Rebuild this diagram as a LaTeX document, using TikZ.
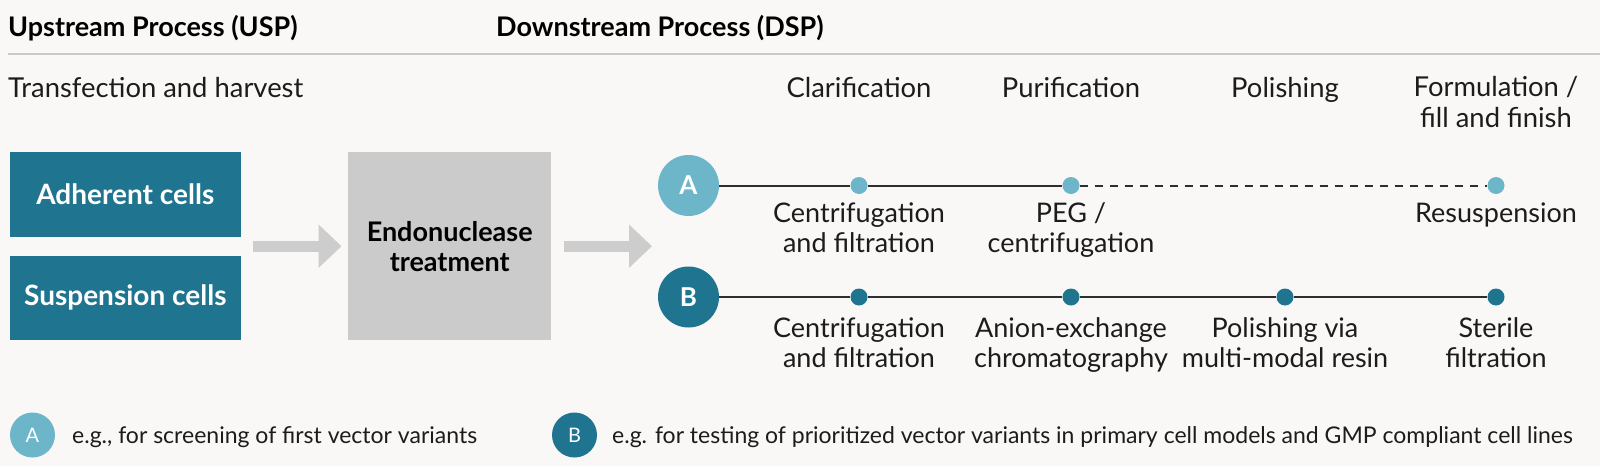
\documentclass[tikz,border=0pt]{standalone}
\usepackage{fontspec}
\setmainfont{Lato}
\usetikzlibrary{arrows.meta}
\definecolor{bgc}{HTML}{F9F8F6}
\definecolor{txtc}{HTML}{1C1C1C}
\definecolor{tealc}{HTML}{1F7490}
\definecolor{lightc}{HTML}{6DB6CA}
\definecolor{boxgray}{HTML}{CBCBCB}
\definecolor{arrgray}{HTML}{CDCDCD}
\definecolor{rulec}{HTML}{C9C9C9}
\definecolor{linec}{HTML}{2E2E2E}
\newcommand{\mltwo}[2]{\begin{tabular}[t]{@{}c@{}}#1\\#2\end{tabular}}
\begin{document}
\begin{tikzpicture}[x=1pt,y=-1pt,
  hdr/.style={inner sep=0pt, text=black, font=\fontsize{27}{30}\selectfont\bfseries},
  sub/.style={inner sep=0pt, text=txtc, font=\fontsize{27.4}{31}\selectfont},
  lab/.style={inner sep=0pt, text=txtc, font=\fontsize{27}{30.5}\selectfont},
  tealbox/.style={fill=tealc, inner sep=0pt, text=white, minimum width=230.7pt, minimum height=84.4pt, font=\fontsize{28}{30}\selectfont\bfseries},
  graybox/.style={fill=boxgray, inner sep=0pt, text=black, align=center, minimum width=202.7pt, minimum height=187.7pt, font=\fontsize{27}{30}\selectfont\bfseries},
  bigarrow/.style={draw=arrgray, line width=11pt, -{Triangle[length=23pt,width=42pt]}},
  bigA/.style={circle, fill=lightc, inner sep=0pt, minimum size=61pt, text=white, font=\fontsize{26}{30}\selectfont\bfseries},
  bigB/.style={circle, fill=tealc, inner sep=0pt, minimum size=61pt, text=white, font=\fontsize{26}{30}\selectfont\bfseries},
  dotA/.style={circle, fill=lightc, inner sep=0pt, minimum size=17pt},
  dotB/.style={circle, fill=tealc, inner sep=0pt, minimum size=17pt},
  smA/.style={circle, fill=lightc, inner sep=0pt, minimum size=45pt, text=white, font=\fontsize{20}{24}\selectfont},
  smB/.style={circle, fill=tealc, inner sep=0pt, minimum size=45pt, text=white, font=\fontsize{20}{24}\selectfont},
  foot/.style={inner sep=0pt, text=txtc, font=\fontsize{23}{25}\selectfont},
  tline/.style={draw=linec, line width=2pt},
  dline/.style={draw=linec, line width=2pt, dash pattern=on 8pt off 7pt},
  rule/.style={draw=rulec, line width=2pt}]
\useasboundingbox[fill=bgc] (0,0) rectangle (1600,466);

% headers
\node[hdr, anchor=base west] (usp) at (8,36) {Upstream Process (USP)};
\node[hdr, anchor=base west] (dsp) at (496,36) {Downstream Process (DSP)};
\coordinate (rl) at (8,54);
\coordinate (rr) at (1600,54);
\draw[rule] (rl) -- (rr);

\node[sub, anchor=base west] (trans) at (8,97) {Transfection and harvest};
\node[sub, anchor=base] (clar) at (859,97) {Clarification};
\node[sub, anchor=base] (puri) at (1071,97) {Purification};
\node[sub, anchor=base] (poli) at (1285,97) {Polishing};
\node[sub, anchor=base] (form) at (1496,96) {\mltwo{Formulation /}{fill and finish}};

% USP boxes
\node[tealbox] (adh) at (125.3,194.5) {Adherent cells};
\node[tealbox] (sus) at (125.3,297.9) {Suspension cells};
\node[graybox] (endo) at (449.7,246.2) {Endonuclease\\treatment};
\coordinate (cells) at (240.7,246.2);
\coordinate (split) at (658,246.2);
\draw[bigarrow, shorten <=12.3pt, shorten >=6.6pt] (cells) -- (endo.west);
\draw[bigarrow, shorten <=13pt, shorten >=6pt] (endo.east) -- (split);

% timeline A
\node[bigA] (A) at (688.5,185.5) {A};
\node[dotA] (a1) at (859,185.5) {};
\node[dotA] (a2) at (1071,185.5) {};
\node[dotA] (a3) at (1496,185.5) {};
\draw[tline] (A) -- (a1);
\draw[tline] (a1) -- (a2);
\draw[dline] (a2) -- (a3);
\node[lab, anchor=base] (la1) at (859,222) {\mltwo{Centrifugation}{and filtration}};
\node[lab, anchor=base] (la2) at (1071,222) {\mltwo{PEG /}{centrifugation}};
\node[lab, anchor=base] (la3) at (1496,222) {Resuspension};

% timeline B
\node[bigB] (B) at (688.5,297) {B};
\node[dotB] (b1) at (859,297) {};
\node[dotB] (b2) at (1071,297) {};
\node[dotB] (b3) at (1285,297) {};
\node[dotB] (b4) at (1496,297) {};
\draw[tline] (B) -- (b1);
\draw[tline] (b1) -- (b2);
\draw[tline] (b2) -- (b3);
\draw[tline] (b3) -- (b4);
\node[lab, anchor=base] (lb1) at (859,337) {\mltwo{Centrifugation}{and filtration}};
\node[lab, anchor=base] (lb2) at (1071,337) {\mltwo{Anion-exchange}{chromatography}};
\node[lab, anchor=base] (lb3) at (1285,337) {\mltwo{Polishing via}{multi-modal resin}};
\node[lab, anchor=base] (lb4) at (1496,337) {\mltwo{Sterile}{filtration}};

% footer legend
\node[smA] (fa) at (32.5,435) {A};
\node[foot, anchor=base west] (fat) at (72,443) {e.g., for screening of first vector variants};
\node[smB] (fb) at (574.5,435) {B};
\node[foot, anchor=base west] (fbt) at (612,443) {e.g. for testing of prioritized vector variants in primary cell models and GMP compliant cell lines};
\end{tikzpicture}
\end{document}
